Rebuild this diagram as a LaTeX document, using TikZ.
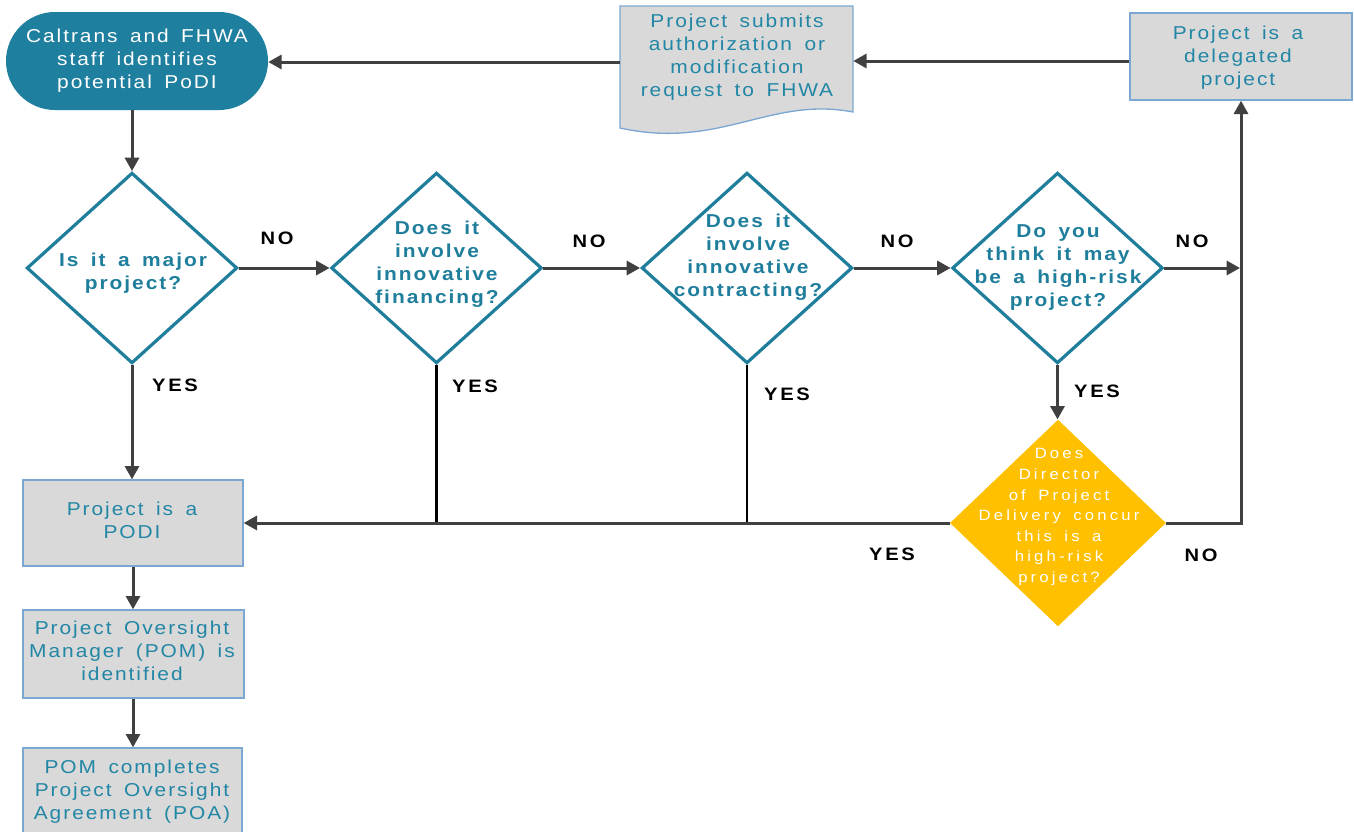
\documentclass[tikz,border=0pt]{standalone}
\usepackage{fontspec}
\setmainfont{Liberation Sans}
\newfontfamily\tfont[LetterSpace=10.5,FakeStretch=1.12,WordSpace=1.6]{Liberation Sans}
\newfontfamily\bfont[LetterSpace=10.5,FakeStretch=1.12,WordSpace=1.6]{Liberation Sans Bold}
\newfontfamily\lfont[LetterSpace=15,FakeStretch=1.12]{Liberation Sans Bold}
\newfontfamily\yfont[LetterSpace=21,FakeStretch=1.12,WordSpace=1.6]{Liberation Sans}
\usetikzlibrary{shapes.geometric,arrows.meta,calc}
\definecolor{tealfill}{HTML}{1F7F9E}
\definecolor{tealtext}{HTML}{2286A5}
\definecolor{tealdark}{HTML}{1E7E9C}
\definecolor{boxgray}{HTML}{D9D9D9}
\definecolor{boxedge}{HTML}{7BA7D4}
\definecolor{linegray}{HTML}{404040}
\definecolor{gold}{HTML}{FFC000}
\tikzset{
  txt/.style={font=\tfont\fontsize{14}{17.25}\selectfont, align=center, inner sep=0pt},
  terminal/.style={rectangle, rounded corners=36.75pt, fill=tealfill, minimum width=196.5pt, minimum height=73.5pt, inner sep=0pt},
  procbox/.style={rectangle, fill=boxgray, draw=boxedge, line width=1pt, minimum width=165pt, minimum height=65pt, inner sep=0pt},
  decision/.style={diamond, draw=tealdark, line width=2.4pt, fill=white, minimum width=158pt, minimum height=143pt, inner sep=0pt},
  golddec/.style={diamond, fill=gold, minimum width=162pt, minimum height=155pt, inner sep=0pt},
  boxtext/.style={txt, text=tealtext},
  dectext/.style={align=center, inner sep=0pt, text=tealdark, font=\bfont\fontsize{14}{17.25}\selectfont},
  goldtext/.style={align=center, inner sep=0pt, text=white, font=\yfont\fontsize{11.2}{15.4}\selectfont},
  lbl/.style={inner sep=0pt, font=\lfont\fontsize{13.5}{16}\selectfont, text=black},
  flow/.style={draw=linegray, line width=2.25pt, -{Triangle[length=10pt,width=10.5pt]}},
  plain/.style={draw=black, line width=1.9pt},
}
\begin{document}
\begin{tikzpicture}[x=0.75pt, y=-0.75pt]
\useasboundingbox (0,0) rectangle (1354,832);
% terminal
\node[terminal] (term) at (137,61) {};
\node[txt, text=white] (termt) at (137,60.5) {Caltrans and FHWA\\staff identifies\\potential PoDI};
% document shape
\node[rectangle, minimum width=174.75pt, minimum height=79.5pt, inner sep=0pt] (doc) at (736.5,59) {};
\filldraw[fill=boxgray, draw=boxedge, line width=1pt]
  (620,6) -- (853,6) -- (853,112) .. controls (770,96) and (720,150) .. (620,128) -- cycle;
\node[boxtext] (doct) at (737,57) {Project submits\\authorization or\\modification\\request to FHWA};
% delegated
\node[procbox, minimum width=166.5pt, minimum height=65.25pt] (deleg) at (1241,56.5) {};
\node[boxtext] (delegt) at (1238,58) {Project is a\\delegated\\project};
% diamonds
\node[decision] (d1) at (132,268) {};
\node[dectext] (d1t) at (133,273) {Is it a major\\project?};
\node[decision] (d2) at (436.5,268) {};
\node[dectext] (d2t) at (437,264) {Does it\\involve\\innovative\\financing?};
\node[decision] (d3) at (747,268) {};
\node[dectext] (d3t) at (748,257) {Does it\\involve\\innovative\\contracting?};
\node[decision] (d4) at (1057.5,268) {};
\node[dectext] (d4t) at (1058,267.5) {Do you\\think it may\\be a high-risk\\project?};
\node[golddec] (yd) at (1058,523) {};
\node[goldtext] (ydt) at (1059,517) {Does\\Director\\of Project\\Delivery concur\\this is a\\high-risk\\project?};
% left column boxes
\node[procbox, minimum width=165pt, minimum height=64.5pt] (podi) at (133,523) {};
\node[boxtext] (podit) at (132,520.5) {Project is a\\PODI};
\node[procbox, minimum width=165.75pt, minimum height=66pt] (pom) at (133.5,654) {};
\node[boxtext] (pomt) at (132,651) {Project Oversight\\Manager (POM) is\\identified};
\node[procbox, minimum width=164.25pt, minimum height=69pt] (poa) at (132.5,794) {};
\node[boxtext] (poat) at (132,791.5) {POM completes\\Project Oversight\\Agreement (POA)};
% connectors
\draw[flow] (d1.north |- term.south) -- (d1.north);
\draw[flow] (d1.east) -- (d2.west);
\draw[flow] (d2.east) -- (d3.west);
\draw[flow] (d3.east) -- (d4.west);
\coordinate (noend) at (1240,268);
\draw[flow] (d4.east) -- (noend);
\draw[flow] (yd.east) -- (yd.east -| deleg.south) -- (deleg.south);
\draw[flow] ($(deleg.west)+(0,4.5)$) -- ($(deleg.west -| doc.east)+(0,4.5)$);
\draw[flow] ($(doc.west)+(0,3)$) -- ($(doc.west -| term.east)+(0,3)$);
\draw[flow] (d1.south) -- (d1.south |- podi.north);
\draw[plain] (d2.south) -- (d2.south |- podi.east);
\draw[plain] (d3.south) -- (d3.south |- podi.east);
\draw[flow] (d4.south) -- (d4.south |- yd.north);
\draw[flow] (yd.west) -- (podi.east);
\draw[flow] (podi.south) -- (podi.south |- pom.north);
\draw[flow] (podi.south |- pom.south) -- (podi.south |- poa.north);
% labels
\node[lbl] (no1) at (277,238) {NO};
\node[lbl] (no2) at (589,241) {NO};
\node[lbl] (no3) at (897,241) {NO};
\node[lbl] (no4) at (1192,241) {NO};
\node[lbl] (no5) at (1201,555) {NO};
\node[lbl] (yes1) at (175,385) {YES};
\node[lbl] (yes2) at (475,386) {YES};
\node[lbl] (yes3) at (787,394) {YES};
\node[lbl] (yes4) at (1097,391) {YES};
\node[lbl] (yes5) at (892,554) {YES};
\end{tikzpicture}
\end{document}
